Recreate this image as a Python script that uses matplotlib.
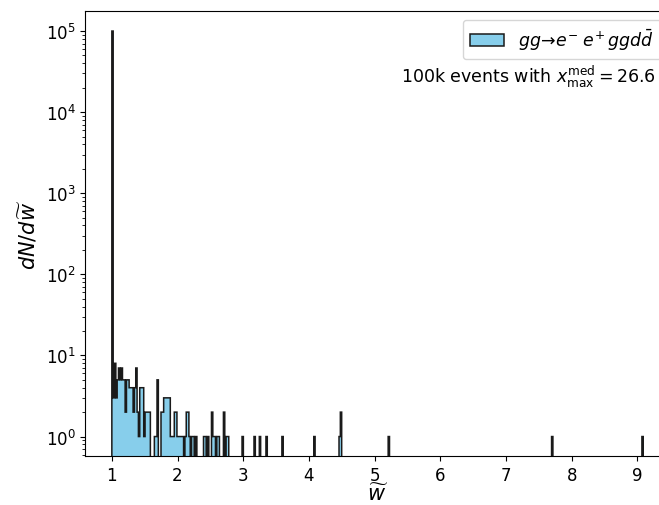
import numpy as np
import matplotlib
matplotlib.use("Agg")
import matplotlib.pyplot as plt

# histogram of w~ : bin centres (only non-empty bins) and their counts
w_centers = [1.010, 1.030, 1.051, 1.071, 1.091, 1.111, 1.131, 1.152, 1.172, 1.192,
             1.212, 1.233, 1.253, 1.273, 1.293, 1.313, 1.334, 1.354, 1.374, 1.394,
             1.415, 1.435, 1.455, 1.475, 1.495, 1.516, 1.536, 1.556, 1.576,
             1.657, 1.678, 1.698, 1.758, 1.779, 1.799, 1.819, 1.839, 1.860, 1.880,
             1.900, 1.920, 1.940, 1.961, 1.981, 2.001, 2.021, 2.042, 2.062, 2.082,
             2.123, 2.143, 2.163, 2.183, 2.224, 2.244, 2.284, 2.406, 2.426, 2.466,
             2.527, 2.547, 2.568, 2.608, 2.628, 2.709, 2.750, 2.770,
             2.992, 3.174, 3.255, 3.356, 3.599, 4.084, 4.469, 4.489, 5.217,
             7.705, 9.080]
counts = [99819, 3, 8, 3, 5, 7, 5, 7, 5, 5,
          2, 5, 5, 4, 4, 4, 2, 4, 7, 2,
          1, 4, 4, 4, 1, 2, 2, 2, 2,
          1, 1, 5, 2, 2, 3, 3, 3, 3, 3,
          1, 1, 1, 2, 2, 1, 1, 1, 1, 1,
          1, 2, 2, 1, 1, 1, 1, 1, 1, 1,
          2, 1, 1, 1, 1, 2, 1, 1,
          1, 1, 1, 1, 1, 1, 1, 2, 1,
          1, 1]

w_min, w_max, n_bins = 1.0, 9.09, 400
edges = np.linspace(w_min, w_max, n_bins + 1)

fig = plt.figure(figsize=(6.59, 5.06), dpi=100)
ax = fig.add_axes([0.1294, 0.0968, 0.887, 0.8794])

ax.hist(w_centers, bins=edges, weights=counts, histtype='stepfilled',
        color='skyblue', edgecolor='#1a1a1a', linewidth=1.1, log=True,
        label=r'$gg\!\to\!e^{-}\;e^{+}\,ggd\bar{d}$')

ax.set_xlim(0.5955, 9.4945)
ax.set_ylim(10**-0.24, 10**5.246)
ax.set_xticks(range(1, 10))
ax.tick_params(labelsize=12)
ax.set_xlabel(r'$\widetilde{w}$', fontsize=15, labelpad=-1)
ax.set_ylabel(r'$dN/d\widetilde{w}$', fontsize=15)

ax.legend(loc='upper right', fontsize=12.5)
ax.text(0.976, 0.855, r'100k events with $x_{\mathrm{max}}^{\mathrm{med}} = 26.6$',
        ha='right', va='center', transform=ax.transAxes, fontsize=12.5)

fig.savefig('out.png', dpi=100)
